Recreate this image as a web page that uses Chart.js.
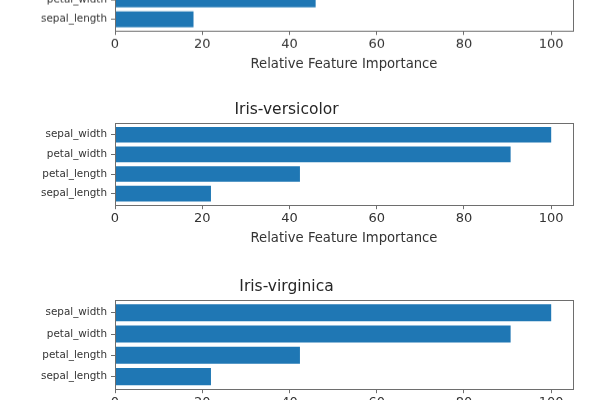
<!DOCTYPE html>
<html>
<head>
<meta charset="utf-8">
<script src="https://cdn.jsdelivr.net/npm/chart.js@4/dist/chart.umd.min.js"></script>
<style>
  html, body { margin: 0; padding: 0; background: #fff; }
  body { width: 600px; height: 400px; overflow: hidden; position: relative; }
  .box { position: absolute; left: 0; width: 600px; }
</style>
</head>
<body>
<div class="box" id="b0"><canvas id="c0"></canvas></div>
<div class="box" id="b1"><canvas id="c1"></canvas></div>
<div class="box" id="b2"><canvas id="c2"></canvas></div>
<script>
// Features per panel, in matplotlib barh order (index 0 at the bottom)
const setosaFeatures = ['sepal_length', 'petal_width', 'petal_length', 'sepal_width'];
const setosaValues = [18, 46, 60, 100];
const versicolorFeatures = ['sepal_length', 'petal_length', 'petal_width', 'sepal_width'];
const versicolorValues = [22, 42.4, 90.7, 100];
const virginicaFeatures = ['sepal_length', 'petal_length', 'petal_width', 'sepal_width'];
const virginicaValues = [22, 42.4, 90.7, 100];
const classNames = ['Iris-setosa', 'Iris-versicolor', 'Iris-virginica'];
const xTicks = [0, 20, 40, 60, 80, 100];
const xLabel = 'Relative Feature Importance';

const FONT = "'DejaVu Sans', 'Liberation Sans', sans-serif";
const TITLE_SIZE = 15.5;
const TITLE_PAD = 3.6;
const TITLE_BLOCK = TITLE_SIZE * 1.2 + TITLE_PAD;
const XAXIS_H = 41;

// layout of the three panels: frame top and frame height (px)
const panels = [
  { id: 0, features: setosaFeatures, values: setosaValues, frameTop: -51.5, frameH: 82 },
  { id: 1, features: versicolorFeatures, values: versicolorValues, frameTop: 123, frameH: 82 },
  { id: 2, features: virginicaFeatures, values: virginicaValues, frameTop: 300, frameH: 89 }
];

const framePlugin = {
  id: 'frame',
  afterDraw(chart) {
    const a = chart.chartArea, ctx = chart.ctx;
    ctx.save();
    ctx.strokeStyle = '#6e6e6e';
    ctx.lineWidth = 1;
    ctx.strokeRect(Math.round(a.left) + 0.5, Math.round(a.top) + 0.5,
                   Math.round(a.right - a.left), Math.round(a.bottom - a.top));
    ctx.restore();
  }
};

panels.forEach(p => {
  const box = document.getElementById('b' + p.id);
  const top = p.frameTop - TITLE_BLOCK;
  box.style.top = top + 'px';
  box.style.height = (TITLE_BLOCK + p.frameH + XAXIS_H) + 'px';

  new Chart(document.getElementById('c' + p.id), {
    type: 'bar',
    data: {
      datasets: [{
        data: p.values.map((v, i) => ({ x: v, y: i })),
        backgroundColor: '#1f77b4',
        borderWidth: 0,
        barPercentage: 0.8,
        categoryPercentage: 1.0
      }]
    },
    options: {
      indexAxis: 'y',
      responsive: true,
      maintainAspectRatio: false,
      animation: false,
      layout: { padding: { left: 0, right: 27, top: 0, bottom: 0 } },
      plugins: {
        legend: { display: false },
        tooltip: { enabled: false },
        title: {
          display: true,
          text: classNames[p.id],
          color: '#262626',
          font: { family: FONT, size: TITLE_SIZE, weight: 'normal' },
          padding: { top: 0, bottom: TITLE_PAD }
        }
      },
      scales: {
        x: {
          type: 'linear',
          min: 0,
          max: 105,
          offset: false,
          afterFit: s => { s.height = XAXIS_H; },
          afterBuildTicks: s => { s.ticks = xTicks.map(v => ({ value: v })); },
          grid: { drawOnChartArea: false, drawTicks: true, tickLength: 4, color: '#6e6e6e', offset: false },
          border: { display: false },
          ticks: {
            color: '#333',
            font: { family: FONT, size: 13 },
            padding: 2,
            maxRotation: 0,
            autoSkip: false
          },
          title: {
            display: true,
            text: xLabel,
            color: '#333',
            font: { family: FONT, size: 13.2 },
            padding: { top: 0, bottom: 0 }
          }
        },
        y: {
          type: 'linear',
          min: -0.59,
          max: 3.59,
          offset: false,
          afterFit: s => { s.width = 115; },
          afterBuildTicks: s => { s.ticks = p.features.map((_, i) => ({ value: i })); },
          grid: { drawOnChartArea: false, drawTicks: true, tickLength: 4, color: '#6e6e6e', offset: false },
          border: { display: false },
          ticks: {
            color: '#333',
            font: { family: FONT, size: 10.4 },
            padding: 4,
            autoSkip: false,
            callback: v => p.features[v]
          }
        }
      }
    },
    plugins: [framePlugin]
  });
});
</script>
</body>
</html>
